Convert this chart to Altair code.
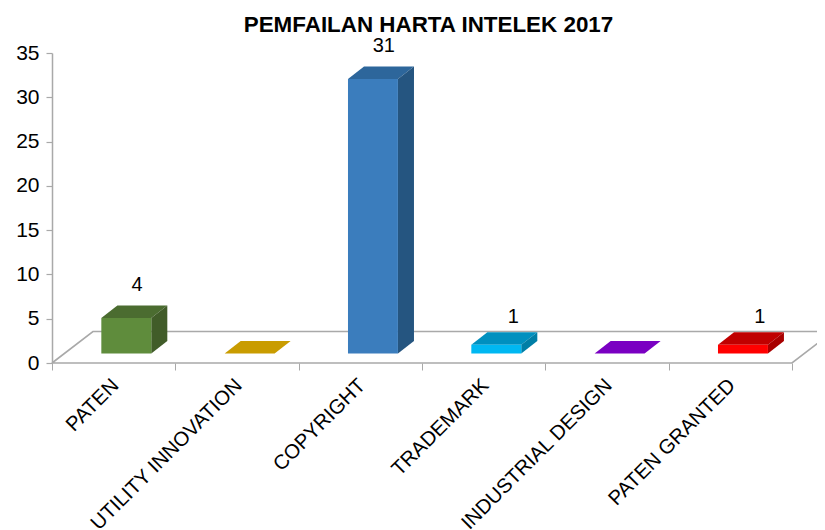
import altair as alt
import pandas as pd

categories = ["PATEN", "UTILITY INNOVATION", "COPYRIGHT", "TRADEMARK", "INDUSTRIAL DESIGN", "PATEN GRANTED"]
values = [4, 0, 31, 1, 0, 1]
front_colors = ["#5f8c3c", "#c99c00", "#3b7dbd", "#00b8f2", "#7a00c2", "#ff0000"]
top_colors = ["#4b6c30", "#c99c00", "#2d669b", "#0090bf", "#7a00c2", "#c00000"]
side_colors = ["#415c29", "#c99c00", "#255580", "#007ea6", "#7a00c2", "#a80000"]

FONT = "Liberation Sans"
GRAY = "#a9a9a9"
PLOT_W, PLOT_H = 765, 310
XMAX = 765 / 123.33
LIFT, DEPTH_Y = 1.07, 1.41
BAR_L, BAR_R, DEPTH_X = 0.40, 0.805, 0.13
FLOOR_X, FLOOR_Y = 0.332, 3.55

faces, fronts, labels, cats = [], [], [], []
for i, (c, v) in enumerate(zip(categories, values)):
    x0, x1 = i + BAR_L, i + BAR_R
    base, top = LIFT, LIFT + v
    for x, lo, hi in [
        (x0, top, top),
        (x0 + DEPTH_X, top, top + DEPTH_Y),
        (x1, top, top + DEPTH_Y),
        (x1 + DEPTH_X, top + DEPTH_Y, top + DEPTH_Y),
    ]:
        faces.append(dict(id=f"t{i}", x=x, y=lo, y2=hi, fill=top_colors[i]))
    if v > 0:
        for x, lo, hi in [(x1, base, top), (x1 + DEPTH_X, base + DEPTH_Y, top + DEPTH_Y)]:
            faces.append(dict(id=f"s{i}", x=x, y=lo, y2=hi, fill=side_colors[i]))
        fronts.append(dict(x=x0, x2=x1, y=base, y2=top, fill=front_colors[i]))
        labels.append(dict(x=i + (0.69 if v > 1 else 0.74), y=v + (4.8 if v > 1 else 4.25), t=str(v)))
    cats.append(dict(x=i + 0.515, y=-2.2, t=c))

floor = pd.DataFrame(dict(
    o=[0, 1, 2, 3, 4],
    x=[0, FLOOR_X, 6 + FLOOR_X, 6, 0],
    y=[0, FLOOR_Y, FLOOR_Y, 0, 0],
))

xs = alt.Scale(domain=[0, XMAX], nice=False, zero=False)
ys = alt.Scale(domain=[0, 35], nice=False, zero=False)

base_axes = alt.Chart(floor).mark_line(stroke=GRAY, strokeWidth=1.6, clip=False).encode(
    x=alt.X("x:Q", scale=xs, title=None, axis=alt.Axis(
        values=[0, 1, 2, 3, 4, 5, 6], labels=False, domain=False, grid=False,
        tickColor=GRAY, tickSize=7, tickWidth=1)),
    y=alt.Y("y:Q", scale=ys, title=None, axis=alt.Axis(
        values=list(range(0, 36, 5)), grid=False, domainColor=GRAY, domainWidth=1.5,
        tickColor=GRAY, tickSize=6, tickWidth=1.2, labelFont=FONT, labelFontSize=21,
        labelColor="#000000", labelPadding=7)),
    order="o:Q",
)

area = alt.Chart(pd.DataFrame(faces)).mark_area(interpolate="linear", opacity=1).encode(
    x=alt.X("x:Q", scale=xs),
    y=alt.Y("y:Q", scale=ys, stack=None),
    y2="y2:Q",
    color=alt.Color("fill:N", scale=None),
    detail="id:N",
)

front = alt.Chart(pd.DataFrame(fronts)).mark_rect().encode(
    x=alt.X("x:Q", scale=xs), x2="x2:Q",
    y=alt.Y("y:Q", scale=ys), y2="y2:Q",
    color=alt.Color("fill:N", scale=None),
)

val_text = alt.Chart(pd.DataFrame(labels)).mark_text(
    font=FONT, fontSize=20, color="#000000", align="center", baseline="middle"
).encode(x=alt.X("x:Q", scale=xs), y=alt.Y("y:Q", scale=ys), text="t:N")

cat_text = alt.Chart(pd.DataFrame(cats)).mark_text(
    font=FONT, fontSize=20.3, color="#000000", align="right", baseline="middle", angle=315
).encode(x=alt.X("x:Q", scale=xs), y=alt.Y("y:Q", scale=ys), text="t:N")

chart = alt.layer(base_axes, area, front, val_text, cat_text).properties(
    width=PLOT_W,
    height=PLOT_H,
    title=alt.TitleParams(
        "PEMFAILAN HARTA INTELEK 2017", font=FONT, fontSize=22.4, fontWeight="bold",
        color="#000000", anchor="middle", dx=-6, dy=1, offset=1,
    ),
    autosize=alt.AutoSizeParams(type="none"),
    padding={"left": 44, "top": 45, "right": 0, "bottom": 167},
).configure_view(stroke=None)

chart.save("out.html", embed_options={"renderer": "svg", "actions": False})
